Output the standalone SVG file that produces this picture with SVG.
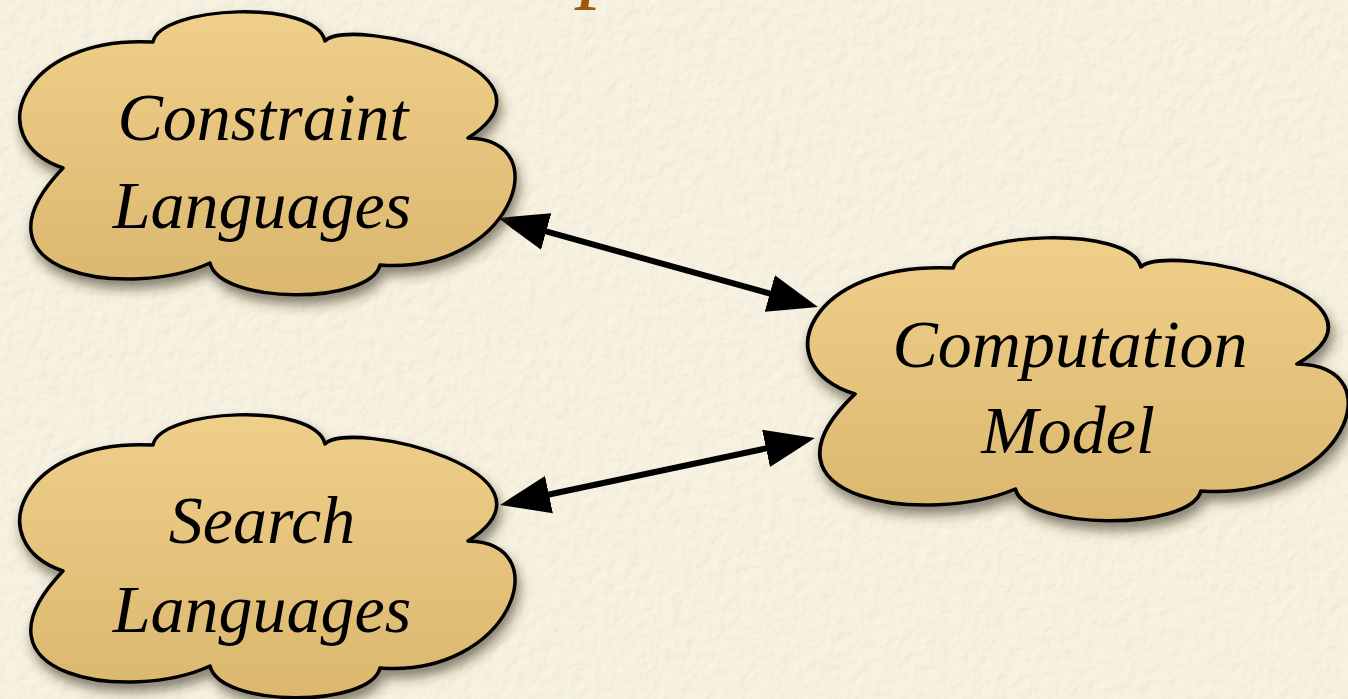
<svg xmlns="http://www.w3.org/2000/svg" width="1348" height="699" viewBox="0 0 1348 699">
  <style>
    .cloud { fill: url(#cloudFill); stroke: #000; stroke-width: 3.5; stroke-linejoin: round; }
    .label { font-family: "Liberation Serif", "Times New Roman", serif; font-style: italic; font-size: 68px; fill: #000; text-anchor: middle; }
    .title { font-family: "Liberation Serif", "Times New Roman", serif; font-style: italic; font-size: 96px; fill: #9c5b0c; }
    .link { stroke: #000; stroke-width: 6; fill: none; marker-start: url(#head); marker-end: url(#head); }
  </style>
  <defs>
    <linearGradient id="cloudFill" x1="0" y1="0" x2="0" y2="1">
      <stop offset="0" stop-color="#efcf8a"/>
      <stop offset="1" stop-color="#dbb76e"/>
    </linearGradient>
    <filter id="shadow" x="-10%" y="-10%" width="125%" height="130%">
      <feDropShadow dx="3" dy="8" stdDeviation="6" flood-color="#2e2614" flood-opacity="0.55"/>
    </filter>
    <filter id="paper" x="0" y="0" width="100%" height="100%">
      <feTurbulence type="fractalNoise" baseFrequency="0.09" numOctaves="3" seed="4" result="noise"/>
      <feDiffuseLighting in="noise" surfaceScale="1.2" lighting-color="#fffbec" result="lit">
        <feDistantLight azimuth="225" elevation="70"/>
      </feDiffuseLighting>
      <feComposite in="lit" in2="SourceGraphic" operator="in"/>
    </filter>
    <marker id="head" markerUnits="userSpaceOnUse" markerWidth="52" markerHeight="40" refX="30" refY="20" orient="auto-start-reverse">
      <path d="M0,1 L50,20 L0,39 z" fill="#000"/>
    </marker>
    <!-- cloud outline, drawn once and reused by each node -->
    <path id="cloudShape" d="M153,42 C160,6 315,-2 325,41 C350,15 575,70 468,138 C560,140 510,275 380,265 C370,305 220,305 210,263 C130,300 -40,275 63,168 C-20,140 20,35 153,42 Z"/>
  </defs>

  <!-- paper background -->
  <rect width="1348" height="699" fill="#f3edd8"/>
  <rect width="1348" height="699" fill="#f3edd8" filter="url(#paper)" opacity="0.55"/>

  <!-- heading, running off the top edge -->
  <text class="title" x="580" y="-10">p</text>

  <g id="connectors">
    <line class="link" x1="517.3" y1="223.4" x2="798.7" y2="301.6"/>
    <line class="link" x1="519.6" y1="500.8" x2="795.4" y2="442.2"/>
  </g>

  <g id="constraint-languages">
    <use href="#cloudShape" class="cloud" filter="url(#shadow)"/>
    <text class="label" x="263" y="140">Constraint</text>
    <text class="label" x="262" y="228">Languages</text>
  </g>

  <g id="search-languages">
    <use href="#cloudShape" class="cloud" filter="url(#shadow)" transform="translate(0,403)"/>
    <text class="label" x="262" y="543">Search</text>
    <text class="label" x="262" y="632">Languages</text>
  </g>

  <g id="computation-model">
    <use href="#cloudShape" class="cloud" filter="url(#shadow)" transform="matrix(1.0915,0,0,1,786.17,226)" vector-effect="non-scaling-stroke"/>
    <text class="label" x="1070" y="367">Computation</text>
    <text class="label" x="1068" y="453">Model</text>
  </g>
</svg>
